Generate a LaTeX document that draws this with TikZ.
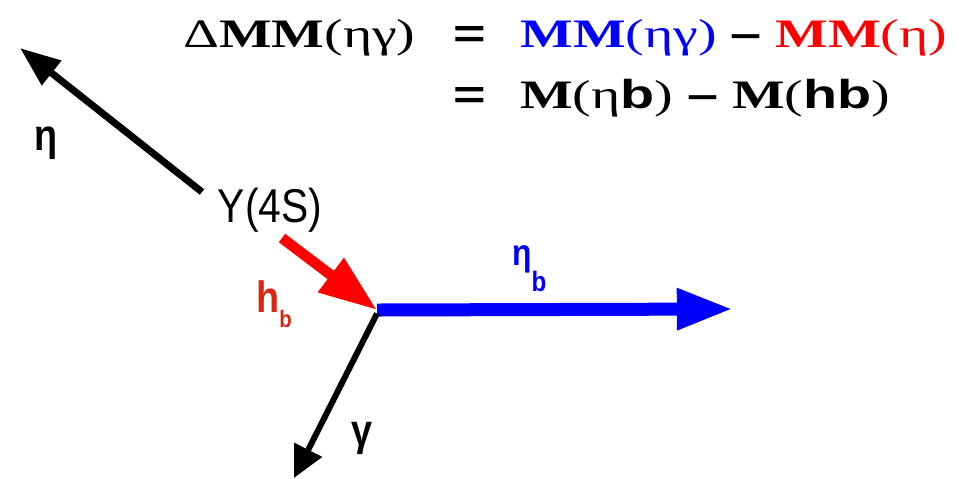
\documentclass[tikz,border=0pt]{standalone}
\usepackage{fontspec}
\setmainfont{Liberation Serif}
\newfontfamily\eqfont[FakeStretch=1.38]{Liberation Serif}
\newfontfamily\eqsans[FakeStretch=1.38]{Liberation Sans}
\newfontfamily\labfont[FakeStretch=0.86]{Liberation Sans}
\definecolor{mmblue}{RGB}{0,0,255}
\definecolor{mmred}{RGB}{255,0,0}
\definecolor{hbred}{RGB}{220,38,20}
\usetikzlibrary{arrows.meta,positioning}
\tikzset{
  eqtext/.style={inner sep=0pt,anchor=base west,font=\eqfont\fontsize{23}{27}\selectfont},
  greeklab/.style={inner sep=0pt,anchor=base,font=\labfont\bfseries\fontsize{25}{30}\selectfont},
  upslab/.style={inner sep=0pt,anchor=base,font=\labfont\fontsize{27}{32}\selectfont},
}
\newcommand{\sansb}[1]{{\eqsans\bfseries #1}}

\begin{document}
\begin{tikzpicture}[x=0.02cm,y=-0.02cm]
    \useasboundingbox (0,0) rectangle (959,478);
    % mass relation
    \node[eqtext] (lhs) at (183,47) {Δ\textbf{MM}(ηγ)};
    \node[eqtext,anchor=base] (eqa) at (470,47) {\sansb{=}};
    \node[eqtext] (rhsa) at (520,47)
      {{\color{mmblue}\textbf{MM}(ηγ)} \sansb{–} {\color{mmred}\textbf{MM}(η)}};
    \node[eqtext,anchor=base] (eqb) at (470,108) {\sansb{=}};
    \node[eqtext] (rhsb) at (520,108)
      {\textbf{M}(η\sansb{b}) \sansb{–} \textbf{M}(\sansb{hb})};

    % decay vertices
    \node[upslab] (ups) at (270,222) {Y(4S)};
    \coordinate (vtx) at (377,310);
    \coordinate (etatail) at (202,192);
    \coordinate (etatip) at (20,48);
    \coordinate (hbtail) at (282,238);
    \coordinate (etabtip) at (733,309);
    \coordinate (gamtip) at (294,478);

    \draw[line width=4pt,-{Triangle[length=23pt,width=17pt]}] (etatail) -- (etatip);
    \draw[mmred,line width=6pt,-{Triangle[length=33pt,width=23pt]}] (hbtail) -- (vtx);
    \draw[mmblue,line width=7.4pt,-{Triangle[length=32pt,width=22pt]}] (vtx) -- (etabtip);
    \draw[line width=3.4pt,-{Triangle[length=18pt,width=17pt]}] ([yshift=-2pt]vtx) -- (gamtip);

    % labels
    \node[greeklab] (etalab) at (46,150) {η};
    \node[greeklab] (gamlab) at (362,445) {γ};
    \node[greeklab,anchor=base west,text=hbred] (hblab) at (256,312)
      {h\raisebox{-9pt}{\fontsize{13.5}{15}\selectfont b}};
    \node[greeklab,anchor=base west,text=mmblue,font=\labfont\bfseries\fontsize{21}{25}\selectfont]
      (etablab) at (512,265) {η\raisebox{-15pt}{\fontsize{16}{18}\selectfont b}};
\end{tikzpicture}
\end{document}
